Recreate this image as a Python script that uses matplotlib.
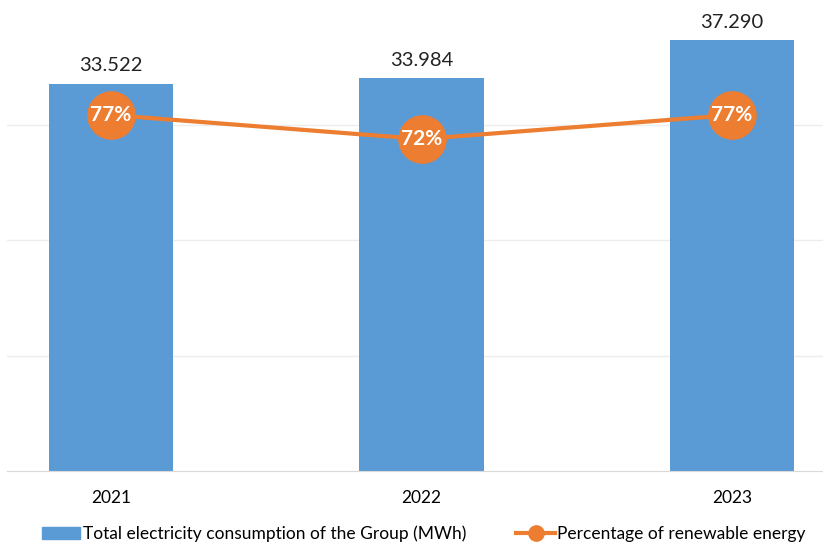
import matplotlib.pyplot as plt
from matplotlib.patches import Patch
from matplotlib.lines import Line2D

plt.rcParams['font.family'] = ['Lato', 'DejaVu Sans']

years = ['2021', '2022', '2023']
consumption = [33.522, 33.984, 37.290]
renewable = [77, 72, 77]
cons_labels = ['33.522', '33.984', '37.290']

blue = '#5B9BD5'
orange = '#ED7D31'

fig = plt.figure(figsize=(8.23, 5.45), dpi=100)
ax = fig.add_axes([7 / 823, 74 / 545, 816 / 823, 462 / 545])

x = list(range(len(years)))
ax.bar(x, consumption, width=0.4, color=blue, zorder=2)
ax.set_xlim(-0.335, 2.293)
ax.set_ylim(0, 40)
ax.set_yticks([10, 20, 30])
ax.yaxis.grid(True, color='#ededed', lw=1, zorder=0)
ax.set_xticks(x)
ax.set_xticklabels(years)
for s in ['top', 'left', 'right']:
    ax.spines[s].set_visible(False)
ax.spines['bottom'].set_color('#d9d9d9')

for xi, v, lab in zip(x, consumption, cons_labels):
    ax.annotate(lab, (xi, v), xytext=(0, 7), textcoords='offset points',
                ha='center', va='bottom', fontsize=14.5, color='#222222')

ax2 = ax.twinx()
ax2.set_ylim(2.8, 99.1)
ax2.plot(x, renewable, color=orange, lw=3, marker='o', markersize=34, zorder=3)
ax2.axis('off')
for xi, p in zip(x, renewable):
    ax2.text(xi, p, f'{p}%', ha='center', va='center', fontsize=15,
             color='white', fontweight='bold', zorder=4)

# twinx turns the left ticks back on, so hide them here
ax.tick_params(axis='y', left=False, labelleft=False, right=False)
ax.tick_params(axis='x', bottom=False, labelsize=12.5, pad=10)

handles = [Patch(color=blue),
           Line2D([0], [0], color=orange, lw=3, marker='o', markersize=11)]
fig.legend(handles, ['Total electricity consumption of the Group (MWh)',
                     'Percentage of renewable energy'],
           loc='center', bbox_to_anchor=(0.515, 11 / 545), ncol=2, frameon=False,
           fontsize=12.5, columnspacing=2.9, handlelength=2.2, handletextpad=0.15,
           borderpad=0)

fig.savefig('out.png', dpi=100)
